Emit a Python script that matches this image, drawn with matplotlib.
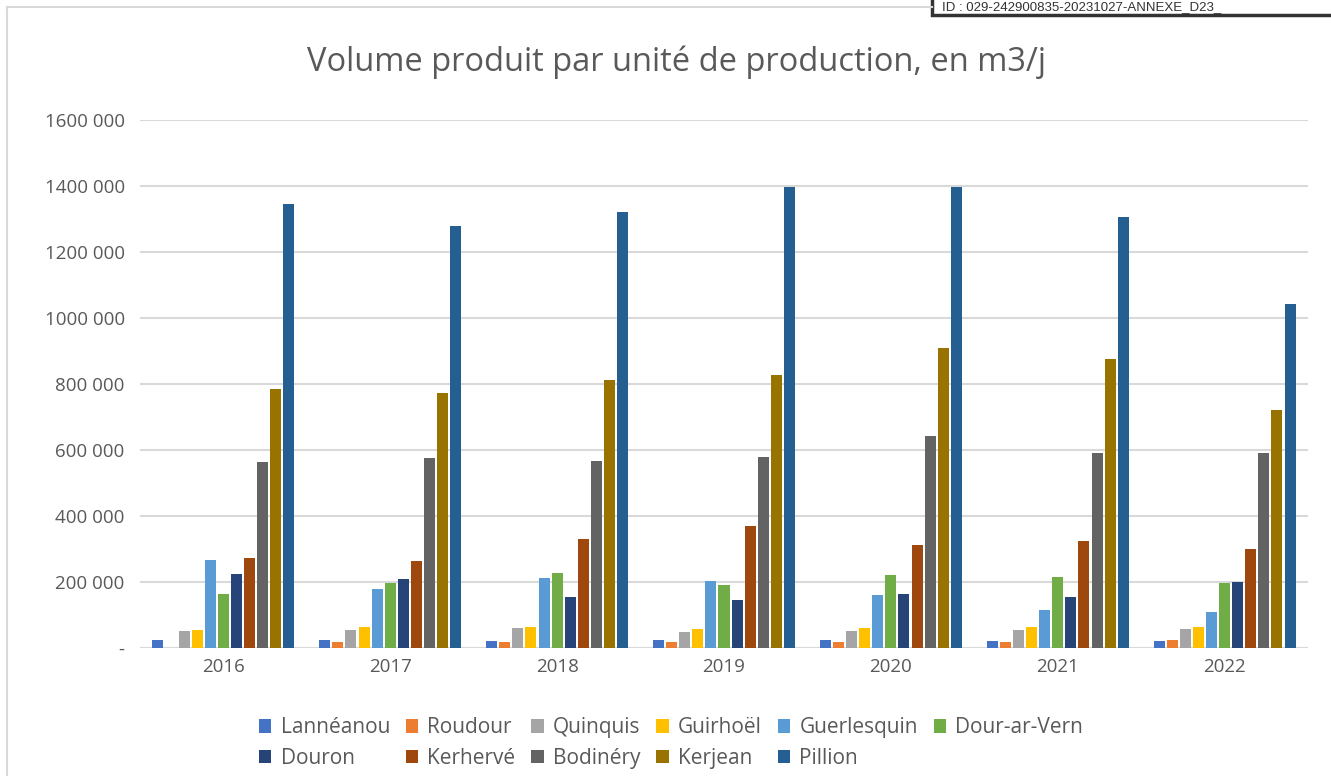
import matplotlib
matplotlib.use("Agg")
import matplotlib.pyplot as plt
import numpy as np
from matplotlib.patches import Rectangle
from matplotlib.lines import Line2D

years = ["2016", "2017", "2018", "2019", "2020", "2021", "2022"]
series_names = ["Lannéanou", "Roudour", "Quinquis", "Guirhoël", "Guerlesquin",
                "Dour-ar-Vern", "Douron", "Kerhervé", "Bodinéry", "Kerjean", "Pillion"]
colors = ["#4472C4", "#ED7D31", "#A5A5A5", "#FFC000", "#5B9BD5", "#70AD47",
          "#264478", "#9E480E", "#636363", "#997300", "#255E91"]

lanneanou   = [24000, 24000, 21000, 24000, 24000, 21000, 21000]
roudour     = [0, 18000, 18000, 18000, 18000, 18000, 24000]
quinquis    = [51500, 54500, 60600, 48500, 51500, 54500, 57600]
guirhoel    = [54500, 63600, 63600, 57600, 60600, 63600, 63600]
guerlesquin = [266700, 178800, 212000, 203000, 160600, 115000, 109000]
dour_ar_vern= [163600, 197000, 227000, 191000, 221200, 215000, 197000]
douron      = [224000, 209000, 154500, 145500, 163600, 154500, 200000]
kerherve    = [272700, 263600, 330000, 369700, 312000, 324000, 300000]
bodinery    = [563600, 575800, 566700, 578800, 642400, 591000, 591000]
kerjean     = [784800, 772700, 812000, 827300, 909000, 875800, 721200]
pillion     = [1345500, 1278800, 1321200, 1398000, 1398000, 1306000, 1042400]

all_series = [lanneanou, roudour, quinquis, guirhoel, guerlesquin, dour_ar_vern,
              douron, kerherve, bodinery, kerjean, pillion]

ytick_values = [0, 200000, 400000, 600000, 800000, 1000000, 1200000, 1400000, 1600000]
ytick_labels = ["-", "200 000", "400 000", "600 000", "800 000", "1000 000",
                "1200 000", "1400 000", "1600 000"]

title = "Volume produit par unité de production, en m3/j"
id_text = "ID : 029-242900835-20231027-ANNEXE_D23_"

plt.rcParams['font.family'] = ['Open Sans', 'DejaVu Sans']
text_color = "#595959"

fig = plt.figure(figsize=(13.31, 7.76), dpi=100)
ax = fig.add_axes([140/1331, 1-648/776, (1308-140)/1331, (648-120)/776])

x = np.arange(len(years))
n = len(all_series)
step = 0.0785
width = 0.066
handles = []
for i, (name, vals, c) in enumerate(zip(series_names, all_series, colors)):
    offs = (i - (n-1)/2) * step
    h = ax.bar(x + offs, vals, width=width, color=c, label=name, zorder=3)
    handles.append(h)

ax.set_xlim(-0.5, len(years)-0.5)
ax.set_ylim(0, 1600000)
ax.set_yticks(ytick_values)
ax.set_yticklabels(ytick_labels)
ax.set_xticks(x)
ax.set_xticklabels(years)
ax.tick_params(axis='both', length=0, labelsize=13.5, colors=text_color)
ax.tick_params(axis='y', pad=11)
ax.tick_params(axis='x', pad=7)
ax.grid(axis='y', color="#d9d9d9", linewidth=1.5, zorder=0)
for s in ax.spines.values():
    s.set_visible(False)
ax.axhline(0, color="#d9d9d9", linewidth=2.2, zorder=2)

fig.text(0.5085, 1-62/776, title, ha='center', va='center', fontsize=23.5, color=text_color)

# row-major legend order for 6 columns x 2 rows
order = [0, 6, 1, 7, 2, 8, 3, 9, 4, 10, 5]
fig.legend([handles[k] for k in order], [series_names[k] for k in order],
           loc='center', bbox_to_anchor=(671/1331, 1-743/776), ncol=6, frameon=False,
           fontsize=15, handlelength=0.6, handleheight=0.6, handletextpad=0.45,
           columnspacing=0.75, labelspacing=0.45, labelcolor=text_color)

# chart border
fig.add_artist(Line2D([7/1331, 7/1331], [0, 1-7/776], color="#d9d9d9", linewidth=1.5))
fig.add_artist(Line2D([7/1331, 932/1331], [1-7/776, 1-7/776], color="#d9d9d9", linewidth=1.5))

# ID box top right
fig.add_artist(Rectangle((932/1331, 1-15/776), (1340-932)/1331, 40/776, facecolor="white",
                         edgecolor="#333333", linewidth=2.5))
fig.text(942/1331, 1-1/776, id_text, ha='left', va='top', fontsize=9.5,
         family=['Liberation Sans', 'DejaVu Sans'], color="#333333")

fig.savefig("out.png", dpi=100)
